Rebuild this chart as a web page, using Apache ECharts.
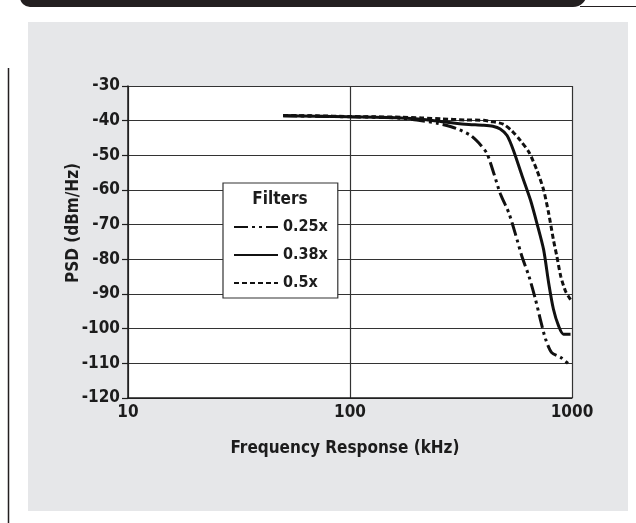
<!DOCTYPE html>
<html>
<head>
<meta charset="utf-8">
<script src="https://cdn.jsdelivr.net/npm/echarts@6/dist/echarts.min.js"></script>
<style>
html,body{margin:0;padding:0;background:#fff;}
#chart{width:636px;height:523px;}
</style>
</head>
<body>
<div id="chart"></div>
<script>
// ---- data ----
const seriesNames = ['0.25x', '0.38x', '0.5x'];

const freq025 = [50, 70, 100, 130, 170, 200, 250, 300, 350, 390, 415, 445, 475, 520, 555, 595, 640, 685, 720, 760, 810, 890, 985];
const psd025  = [-38.6, -38.7, -38.9, -39.0, -39.3, -39.8, -40.8, -42.2, -44.3, -47.2, -49.6, -55.3, -61, -66.7, -72.5, -79.2, -84.9, -91.6, -97.3, -103, -106.9, -108.3, -110.7];

const freq038 = [50, 70, 100, 130, 170, 210, 260, 330, 400, 440, 475, 510, 545, 595, 650, 695, 745, 785, 825, 870, 915, 985];
const psd038  = [-38.6, -38.7, -38.9, -39.0, -39.2, -39.6, -40.3, -41.0, -41.3, -41.6, -42.4, -44.3, -48.6, -55.8, -62.9, -69.6, -77.2, -86.8, -94.4, -99.2, -101.6, -101.6];

const freq05 = [50, 70, 100, 130, 170, 210, 260, 330, 400, 430, 490, 535, 585, 640, 695, 745, 785, 825, 855, 890, 935, 985];
const psd05  = [-38.5, -38.6, -38.8, -38.9, -39.0, -39.2, -39.5, -39.8, -39.9, -40.2, -41.0, -42.9, -45.7, -49.1, -54.3, -60, -66.7, -74.4, -79.2, -84.9, -89.2, -91.6];

const xTicks = [10, 100, 1000];
const yMin = -120, yMax = -30, yStep = 10;

const legendTitle = 'Filters';
const xAxisTitle = 'Frequency Response (kHz)';
const yAxisTitle = 'PSD (dBm/Hz)';

// ---- build ----
function pairs(xs, ys) { return xs.map((x, i) => [x, ys[i]]); }

const FONT = "'DejaVu Sans Condensed', 'Liberation Sans Narrow', sans-serif";
const INK = '#1c1c1c';

const chart = echarts.init(document.getElementById('chart'), null, {renderer: 'canvas'});

const lineTypes = [[14, 4, 3, 4, 3, 4], 'solid', [5, 3]];
const datasets = [pairs(freq025, psd025), pairs(freq038, psd038), pairs(freq05, psd05)];

chart.setOption({
  animation: false,
  backgroundColor: '#ffffff',
  graphic: [
    {type: 'rect', z: -10, shape: {x: 28, y: 22, width: 600, height: 489}, style: {fill: '#e6e7e9'}},
    {type: 'rect', z: -10, shape: {x: 20, y: -12, width: 567, height: 19, r: [0, 0, 14, 10]}, style: {fill: '#231f20'}},
    {type: 'line', z: -10, shape: {x1: 580, y1: 6.5, x2: 636, y2: 6.5}, style: {stroke: '#231f20', lineWidth: 1.2}},
    {type: 'line', z: -10, shape: {x1: 8.5, y1: 68, x2: 8.5, y2: 523}, style: {stroke: '#231f20', lineWidth: 1.5}},
    {type: 'text', z: 100, x: 280, y: 200, style: {text: legendTitle, fill: INK, font: 'bold 17px ' + FONT, textAlign: 'center', textVerticalAlign: 'middle'}}
  ],
  grid: {left: 128, top: 86, width: 444, height: 312, show: true, backgroundColor: '#ffffff', borderWidth: 0},
  legend: {
    data: seriesNames,
    orient: 'vertical',
    left: 223,
    top: 183,
    padding: [36, 10, 7, 10],
    itemWidth: 44,
    itemHeight: 18,
    itemGap: 12,
    backgroundColor: '#ffffff',
    borderColor: '#333333',
    borderWidth: 1.2,
    borderRadius: 0,
    itemStyle: {opacity: 0},
    textStyle: {fontFamily: FONT, fontWeight: 'bold', fontSize: 16, color: INK},
    z: 50
  },
  xAxis: {
    type: 'log',
    logBase: 10,
    min: xTicks[0],
    max: xTicks[xTicks.length - 1],
    name: xAxisTitle,
    nameLocation: 'middle',
    nameGap: 42,
    nameTextStyle: {fontFamily: FONT, fontWeight: 'bold', fontSize: 17, color: INK, padding: [0, 10, 0, 0]},
    axisLine: {show: true, lineStyle: {color: INK, width: 1.5}},
    axisTick: {show: false},
    minorTick: {show: false},
    axisLabel: {fontFamily: FONT, fontWeight: 'bold', fontSize: 17, color: INK, margin: 6, formatter: v => String(Math.round(v))},
    splitLine: {show: true, lineStyle: {color: '#333333', width: 1.2}}
  },
  yAxis: {
    type: 'value',
    min: yMin,
    max: yMax,
    interval: yStep,
    name: yAxisTitle,
    nameLocation: 'middle',
    nameGap: 46,
    nameMoveOverlap: false,
    nameRotate: 90,
    nameTextStyle: {fontFamily: FONT, fontWeight: 'bold', fontSize: 17, color: INK, padding: [0, 0, 0, 38]},
    axisLine: {show: true, lineStyle: {color: INK, width: 1.5}},
    axisTick: {show: true, inside: false, length: 6, lineStyle: {color: INK, width: 1.2}},
    axisLabel: {fontFamily: FONT, fontWeight: 'bold', fontSize: 17, color: INK, margin: 8},
    splitLine: {show: true, lineStyle: {color: '#333333', width: 1.2}}
  },
  series: seriesNames.map((name, i) => ({
    name: name,
    type: 'line',
    data: datasets[i],
    showSymbol: false,
    symbol: 'none',
    smooth: 0.25,
    color: '#111111',
    lineStyle: {color: '#111111', width: 3, type: lineTypes[i], cap: 'butt'},
    z: 10 + i
  }))
});
</script>
</body>
</html>
